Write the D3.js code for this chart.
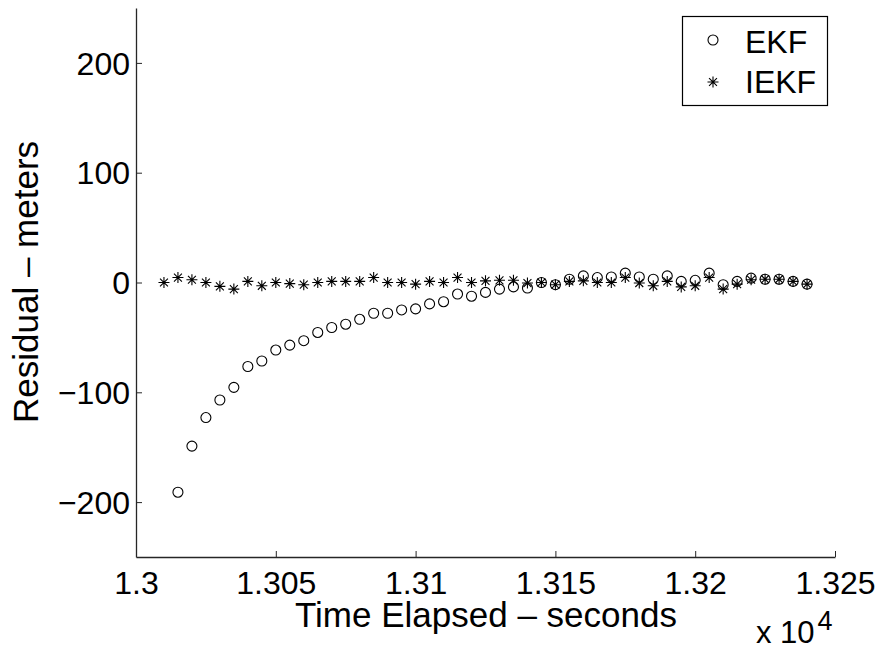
<html>
<head>
<script src="https://cdn.jsdelivr.net/npm/d3@7"></script>
<style>
  body { margin: 0; background: #fff; }
  text { font-family: "Liberation Sans", Arial, sans-serif; fill: #000; }
</style>
</head>
<body>
<div id="chart"></div>
<script>
// sample times (seconds)
const times = [13010, 13015, 13020, 13025, 13030, 13035, 13040, 13045, 13050, 13055,
               13060, 13065, 13070, 13075, 13080, 13085, 13090, 13095, 13100, 13105,
               13110, 13115, 13120, 13125, 13130, 13135, 13140, 13145, 13150, 13155,
               13160, 13165, 13170, 13175, 13180, 13185, 13190, 13195, 13200, 13205,
               13210, 13215, 13220, 13225, 13230, 13235, 13240];

// EKF residuals (no sample at the first time)
const ekf = [null, -191, -149, -123, -107, -95.5, -76.5, -71.5, -61.5, -57,
             -53, -45.5, -41, -38, -33.5, -28, -28, -25, -24, -19.5,
             -17.5, -10.5, -12.5, -9, -6, -4, -5, 0, -2, 3,
             6, 4.5, 5, 8.5, 5, 3, 6, 1, 2, 8.5,
             -2, 1, 4, 3, 3, 1, -1.5];

// IEKF residuals
const iekf = [0, 4.5, 2.5, 0, -3.5, -6, 1, -3, 0, -1,
              -2, 0, 1, 1, 1, 4.5, 0, 0, -1.5, 1,
              0, 4.5, 0, 1.5, 2, 2, -0.5, 0, -2, 1,
              1.5, 0, 0, 4.5, -0.5, -3, 1, -4, -3, 4.5,
              -6, -1.5, 2.5, 3, 3, 1, -1.5];

const xTicks = [13000, 13050, 13100, 13150, 13200, 13250];
const yTicks = [-200, -100, 0, 100, 200];

const W = 883, H = 652;
const svg = d3.select("#chart").append("svg")
    .attr("width", W).attr("height", H);

const x = d3.scaleLinear().domain([13000, 13250]).range([136, 835]);
const y = d3.scaleLinear().domain([-250, 250]).range([557, 8]);

const axisColor = "#262626";

// bottom axis, ticks pointing inward
const xAxis = svg.append("g")
    .attr("transform", "translate(0,557)")
    .call(d3.axisBottom(x).tickValues(xTicks).tickSizeInner(-6).tickSizeOuter(0)
        .tickPadding(14)
        .tickFormat(d => String(+(d / 1e4).toFixed(4))));

// left axis
const yAxis = svg.append("g")
    .attr("transform", "translate(136,0)")
    .call(d3.axisLeft(y).tickValues(yTicks).tickSizeInner(-6).tickSizeOuter(0)
        .tickPadding(6)
        .tickFormat(d => d < 0 ? "\u2212" + Math.abs(d) : String(d)));

[xAxis, yAxis].forEach(g => {
  g.select(".domain").attr("stroke", axisColor).attr("stroke-width", 1.3);
  g.selectAll(".tick line").attr("stroke", axisColor).attr("stroke-width", 1);
  g.selectAll(".tick text")
      .style("font-family", '"Liberation Sans", Arial, sans-serif')
      .style("font-size", "32px").attr("fill", "#000");
});
xAxis.selectAll(".tick text").attr("dy", "0.71em");
yAxis.selectAll(".tick text").attr("dy", "0.35em");

// axis labels
svg.append("text")
    .attr("x", 486).attr("y", 627)
    .attr("text-anchor", "middle")
    .style("font-size", "35px")
    .text("Time Elapsed \u2013 seconds");

svg.append("text")
    .attr("transform", "translate(38,282) rotate(-90)")
    .attr("text-anchor", "middle")
    .style("font-size", "35px")
    .text("Residual \u2013 meters");

// exponent label
const expo = svg.append("text").attr("x", 756).attr("y", 643).style("font-size", "31px");
expo.append("tspan").text("x 10");
expo.append("tspan").attr("dx", 3).attr("dy", -13).style("font-size", "27px").text("4");

// marker helpers
function drawCircle(g, cx, cy) {
  g.append("circle").attr("cx", cx).attr("cy", cy).attr("r", 5)
      .attr("fill", "none").attr("stroke", "#000").attr("stroke-width", 1.1);
}
function drawStar(g, cx, cy) {
  const r = 5.5, d = r * 0.72;
  const p = d3.path();
  p.moveTo(cx - r, cy); p.lineTo(cx + r, cy);
  p.moveTo(cx, cy - r); p.lineTo(cx, cy + r);
  p.moveTo(cx - d, cy - d); p.lineTo(cx + d, cy + d);
  p.moveTo(cx - d, cy + d); p.lineTo(cx + d, cy - d);
  g.append("path").attr("d", p.toString())
      .attr("stroke", "#000").attr("stroke-width", 1.1).attr("fill", "none");
}

const marks = svg.append("g");
times.forEach((t, i) => {
  if (ekf[i] !== null) drawCircle(marks, x(t), y(ekf[i]));
});
times.forEach((t, i) => {
  drawStar(marks, x(t), y(iekf[i]));
});

// legend
const lg = svg.append("g");
lg.append("rect").attr("x", 682.5).attr("y", 16.5).attr("width", 145).attr("height", 89)
    .attr("fill", "#fff").attr("stroke", "#000").attr("stroke-width", 1.2);
drawCircle(lg, 713, 40);
drawStar(lg, 713, 82);
lg.append("text").attr("x", 745).attr("y", 53).style("font-size", "32px").text("EKF");
lg.append("text").attr("x", 745).attr("y", 93).style("font-size", "32px").text("IEKF");
</script>
</body>
</html>
